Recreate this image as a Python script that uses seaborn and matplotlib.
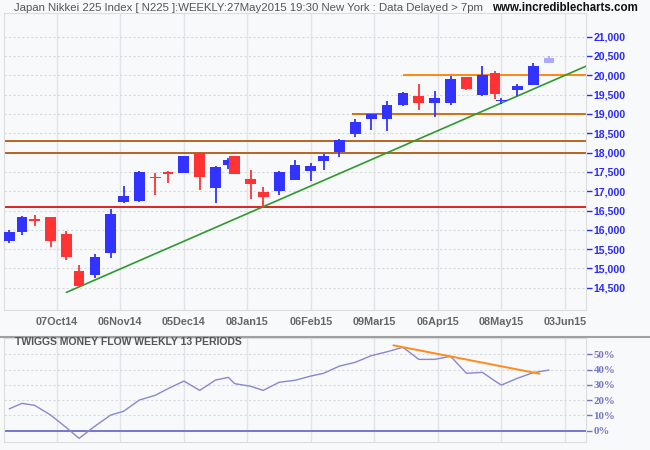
import numpy as np
import pandas as pd
import matplotlib
matplotlib.use("Agg")
import matplotlib.pyplot as plt
import seaborn as sns

# weekly candles, each dated by the last trading day of its week
dates = ['2014-09-12', '2014-09-19', '2014-09-26', '2014-10-03', '2014-10-10',
         '2014-10-17', '2014-10-24', '2014-10-31', '2014-11-07', '2014-11-14',
         '2014-11-21', '2014-11-28', '2014-12-05', '2014-12-12', '2014-12-19',
         '2014-12-26', '2014-12-30', '2015-01-09', '2015-01-16', '2015-01-23',
         '2015-01-30', '2015-02-06', '2015-02-13', '2015-02-20', '2015-02-27',
         '2015-03-06', '2015-03-13', '2015-03-20', '2015-03-27', '2015-04-03',
         '2015-04-10', '2015-04-17', '2015-04-24', '2015-05-01', '2015-05-08',
         '2015-05-15', '2015-05-22', '2015-05-29']
opens = [15710, 15944, 16280, 16332, 15892, 14934, 14830, 15408, 16720, 16746,
         17368, 17497, 17471, 17989, 17090, 17678, 17911, 17316, 16979, 17013,
         17298, 17531, 17789, 18023, 18489, 18869, 18869, 19239, 19465, 19291,
         19291, 19957, 19498, 20060, 19330, 19628, 19757, 20327]
highs = [15995, 16358, 16384, 16340, 15969, 15089, 15374, 16539, 17135, 17523,
         17471, 17510, 17920, 18015, 17640, 17859, 17920, 17549, 17109, 17523,
         17808, 17730, 17963, 18351, 18869, 19000, 19335, 19560, 19775, 19594,
         19982, 19965, 20241, 20112, 19420, 19775, 20319, 20500]
lows = [15667, 15866, 16107, 15563, 15219, 14530, 14760, 15278, 16700, 16720,
        16902, 17212, 17460, 17031, 16687, 17575, 17440, 16806, 16599, 16909,
        17290, 17272, 17557, 17893, 18411, 18584, 18558, 19213, 19110, 18929,
        19239, 19628, 19472, 19395, 19257, 19472, 19742, 20311]
closes = [15944, 16332, 16228, 15711, 15304, 14545, 15296, 16410, 16876, 17497,
          17342, 17445, 17911, 17368, 17627, 17808, 17453, 17194, 16857, 17497,
          17678, 17652, 17911, 18325, 18791, 18991, 19232, 19542, 19291, 19413,
          19905, 19654, 20008, 19524, 19370, 19723, 20241, 20448]

# Twiggs Money Flow (13 weeks), percent
tmf = [14.3, 17.9, 16.6, 10.3, 2.0, -5.0, 3.0, 10.3, 12.7, 20.1,
       23.2, 27.5, 32.5, 26.4, 33.2, 34.9, 30.8, 29.1, 26.4, 31.7,
       33.0, 35.8, 37.6, 42.3, 44.8, 49.1, 51.7, 54.6, 46.7, 46.7,
       48.7, 37.6, 38.2, 32.5, 29.9, 34.3, 38.0, 39.7]

# Tokyo exchange closed days in the range
holidays = ['2014-09-15', '2014-09-23', '2014-10-13', '2014-11-03', '2014-11-24',
            '2014-12-23', '2014-12-31', '2015-01-01', '2015-01-02', '2015-01-12',
            '2015-02-11', '2015-04-29', '2015-05-04', '2015-05-05', '2015-05-06']

# support / resistance lines
level_prices = [20000, 19000, 18300, 18000, 16600]
level_starts = ['2015-03-20', '2015-02-26', None, None, None]
level_colors = ['#FF8000', '#CC6600', '#B05A10', '#B05A10', '#DD1111']

trend_dates = ['2014-10-10', '2015-05-29']
trend_prices = [14380, 19820]

tmf_trend_dates = ['2015-03-17', '2015-05-26']
tmf_trend_values = [55.9, 37.3]

tick_dates = ['2014-10-07', '2014-11-06', '2014-12-05', '2015-01-08', '2015-02-06',
              '2015-03-09', '2015-04-06', '2015-05-08', '2015-06-03']
tick_labels = ['07Oct14', '06Nov14', '05Dec14', '08Jan15', '06Feb15',
               '09Mar15', '06Apr15', '08May15', '03Jun15']

first = np.datetime64(dates[0])
last = np.datetime64(dates[-1])


def tday(d):
    # trading-day axis; past the last bar the chart runs on calendar days
    d = np.datetime64(d)
    if d > last:
        return np.busday_count(first, last, holidays=holidays) + int((d - last).astype(int))
    return np.busday_count(first, d, holidays=holidays)


df = pd.DataFrame({'date': dates, 'open': opens, 'high': highs,
                   'low': lows, 'close': closes, 'tmf': tmf})
df['t'] = [tday(d) for d in df['date']]
df['color'] = np.where(df['close'] >= df['open'], '#3333FF', '#FF3333')
df.loc[df.index[-1], 'color'] = '#AAAAFF'

sns.set_style("whitegrid", {
    'axes.facecolor': '#F8F9FB',
    'axes.edgecolor': '#DDDDDD',
    'grid.color': '#E4E4E8',
})
plt.rcParams['font.family'] = ['Liberation Sans', 'DejaVu Sans']

fig = plt.figure(figsize=(6.5, 4.5), dpi=100, facecolor='#F8F9FB')
ax = fig.add_axes([0.0069, 0.3111, 0.8954, 0.66])
ax2 = fig.add_axes([0.0069, 0.0178, 0.8954, 0.2311])

xmin, xmax = -1.5, 181.8

# price panel
ax.vlines(df['t'], df['low'], df['high'], colors=df['color'], lw=1.3, zorder=3)
ax.bar(df['t'], (df['close'] - df['open']).abs(),
       bottom=np.minimum(df['open'], df['close']),
       width=3.4, color=df['color'], lw=0, zorder=3)

for price, start, col in zip(level_prices, level_starts, level_colors):
    x0 = tday(start) if start else xmin
    ax.hlines(price, x0, xmax, colors=col, lw=1.3, zorder=2)

t0, t1 = tday(trend_dates[0]), tday(trend_dates[1])
slope = (trend_prices[1] - trend_prices[0]) / (t1 - t0)
ax.plot([t0, xmax], [trend_prices[0], trend_prices[0] + slope * (xmax - t0)],
        color='#2E9A2E', lw=1.2, zorder=2)

ax.set_xlim(xmin, xmax)
ax.set_ylim(13924, 21613)
ax.set_yticks(np.arange(14500, 21001, 500))
ax.set_yticklabels([f'{v:,}' for v in np.arange(14500, 21001, 500)])
ax.yaxis.tick_right()
ax.tick_params(axis='y', colors='#2A2AFF', length=4, width=1, pad=1, labelsize=7.6)
for lab in ax.get_yticklabels():
    lab.set_fontweight('bold')
ax.set_xticks([tday(d) for d in tick_dates])
ax.set_xticklabels(tick_labels)
ax.tick_params(axis='x', colors='#666666', length=0, pad=5, labelsize=7.8)
for lab in ax.get_xticklabels():
    lab.set_fontweight('bold')
ax.grid(axis='y', linestyle=(0, (2, 2)), color='#D8D8DC', lw=0.8)
ax.grid(axis='x', color='#E4E4E8', lw=1)
ax.set_axisbelow(True)

# money flow panel
sns.lineplot(data=df, x='t', y='tmf', ax=ax2, color='#8888CC', lw=1, zorder=3)
ax2.axhline(0, color='#7777CC', lw=1.4, zorder=2)
ax2.plot([tday(d) for d in tmf_trend_dates], tmf_trend_values,
         color='#FF8C1A', lw=1.4, zorder=4)
ax2.set_xlim(xmin, xmax)
ax2.set_ylim(-7.4, 60.7)
ax2.set_yticks(range(0, 51, 10))
ax2.set_yticklabels([f'{v}%' for v in range(0, 51, 10)])
ax2.yaxis.tick_right()
ax2.tick_params(axis='y', colors='#7474C4', length=4, width=1, pad=1, labelsize=7.8)
for lab in ax2.get_yticklabels():
    lab.set_fontweight('bold')
    lab.set_family(['Liberation Serif'])
ax2.set_xticks([tday(d) for d in tick_dates])
ax2.set_xticklabels([])
ax2.tick_params(axis='x', length=0)
ax2.set_xlabel('')
ax2.set_ylabel('')
ax2.grid(axis='y', linestyle=(0, (2, 2)), color='#D8D8DC', lw=0.8)
ax2.grid(axis='x', color='#E4E4E8', lw=1)
ax2.set_axisbelow(True)

fig.add_artist(plt.Line2D([0, 1], [1 - 336.5 / 450] * 2, color='#A0A0A0', lw=1.5))

fig.text(0.022, 0.982, 'Japan Nikkei 225 Index [ N225 ]:WEEKLY:27May2015 19:30 New York : Data Delayed > 7pm',
         fontsize=8.2, color='#555555', va='center', ha='left')
fig.text(0.982, 0.982, 'www.incrediblecharts.com', fontsize=8.3, fontweight='bold',
         color='#111111', va='center', ha='right')
fig.text(0.023, 0.2407, 'TWIGGS MONEY FLOW WEEKLY 13 PERIODS', fontsize=7.5,
         fontweight='bold', color='#555555', va='center', ha='left')

fig.savefig('out.png', dpi=100, facecolor=fig.get_facecolor())
